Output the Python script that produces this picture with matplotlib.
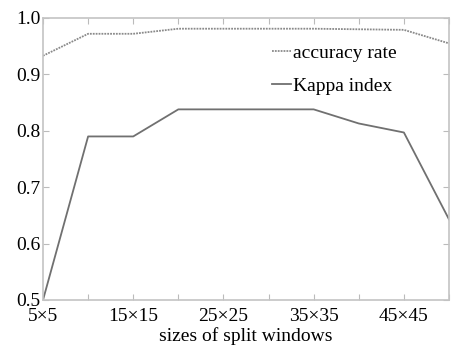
import matplotlib.pyplot as plt
import numpy as np

plt.rcParams['font.family'] = ['Liberation Serif', 'DejaVu Serif']

sizes = [5, 10, 15, 20, 25, 30, 35, 40, 45, 50]
accuracy = [0.933, 0.972, 0.972, 0.981, 0.981, 0.981, 0.981, 0.980, 0.979, 0.955]
kappa = [0.500, 0.790, 0.790, 0.838, 0.838, 0.838, 0.838, 0.813, 0.797, 0.643]
xtick_lab = ['5×5', '', '15×15', '', '25×25', '', '35×35', '', '45×45', '']

fig = plt.figure(figsize=(4.53, 3.47), dpi=100)
ax = fig.add_axes([43/453, 47/347, 406/453, 282/347])

ax.plot(sizes, accuracy, color='#8a8a8a', lw=1.3, ls=(0, (1, 0.6)), label='accuracy rate')
ax.plot(sizes, kappa, color='#707070', lw=1.3, label='Kappa index')

ax.set_xlim(5, 50)
ax.set_ylim(0.5, 1.0)
ax.set_xticks(sizes)
ax.set_xticklabels(xtick_lab)
ax.set_yticks([0.5, 0.6, 0.7, 0.8, 0.9, 1.0])
ax.set_yticklabels(['0.5', '0.6', '0.7', '0.8', '0.9', '1.0'])
ax.tick_params(axis='both', which='major', direction='in', length=4, color='#bbbbbb',
               top=True, right=True, labelsize=14, pad=2)
ax.tick_params(axis='x', pad=6)
for s in ax.spines.values():
    s.set_color('#c4c4c4')
    s.set_linewidth(1.2)

ax.set_xlabel('sizes of split windows', fontsize=14, labelpad=1)

ax.legend(loc='upper left', bbox_to_anchor=(0.52, 0.97), frameon=False, fontsize=14,
          handlelength=1.0, handletextpad=0.1, labelspacing=0.8)

fig.savefig('out.png', dpi=100)
